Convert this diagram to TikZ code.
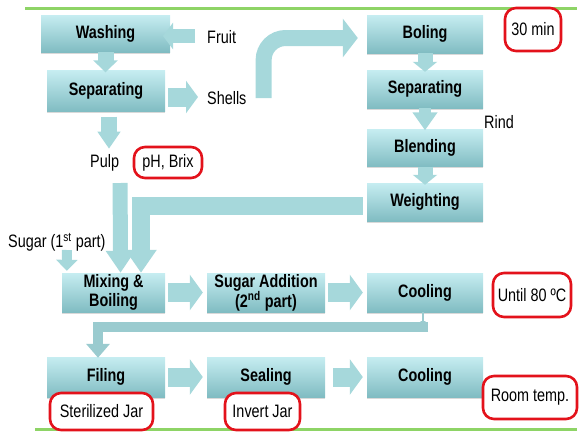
\documentclass[tikz,border=0pt]{standalone}
\usepackage{fontspec}
\setmainfont[FakeStretch=0.8]{Liberation Sans}
\usetikzlibrary{arrows.meta,shadows,calc}
\definecolor{boxtop}{HTML}{C6EDF1}
\definecolor{boxbot}{HTML}{80BCC2}
\definecolor{arr}{HTML}{A6D8DB}
\definecolor{arrdark}{HTML}{9ACBCF}
\definecolor{redline}{HTML}{E3121B}
\definecolor{greenline}{HTML}{8ED466}
\begin{document}
\begin{tikzpicture}[x=1pt,y=-1pt,
 box/.style={rectangle, inner sep=0pt, top color=boxtop, bottom color=boxbot, draw=none,
   font=\bfseries\fontsize{18}{19}\selectfont, align=center,
   drop shadow={shadow xshift=0pt, shadow yshift=-1.5pt, opacity=0.3}},
 note/.style={rectangle, rounded corners=11pt, draw=redline, line width=2.6pt, inner sep=0pt,
   font=\fontsize{18}{19}\selectfont, fill=white},
 lbl/.style={inner sep=0pt, font=\fontsize{18}{19}\selectfont},
 fat/.style={draw=arr, line cap=butt}
]
\useasboundingbox (0,0) rectangle (580,431);
% green rules
\draw[greenline, line width=3pt] (25,8) -- (577,8);
\draw[greenline, line width=3pt] (35,429) -- (577,429);

% process boxes
\node[box, minimum width=129pt, minimum height=37pt] (wash) at (105.5,33.5) {Washing};
\node[box, minimum width=118pt, minimum height=41pt] (sep1) at (106,91) {Separating};
\node[box, minimum width=116pt, minimum height=38pt] (boil) at (425,34) {Boling};
\node[box, minimum width=116pt, minimum height=38pt] (sep2) at (425,89) {Separating};
\node[box, minimum width=116pt, minimum height=37pt] (blend) at (425,148) {Blending};
\node[box, minimum width=116pt, minimum height=38pt] (weigh) at (425,202) {Weighting};
\node[box, minimum width=103pt, minimum height=39pt] (mix) at (113.5,292.5) {Mixing \&\\Boiling};
\node[box, minimum width=118pt, minimum height=39pt] (sugar) at (266,292.5) {Sugar Addition\\(2\textsuperscript{nd} part)};
\node[box, minimum width=116pt, minimum height=39pt] (cool1) at (425,292.5) {Cooling};
\node[box, minimum width=118pt, minimum height=40pt] (fil) at (106,377) {Filing};
\node[box, minimum width=118pt, minimum height=40pt] (seal) at (266,377) {Sealing};
\node[box, minimum width=116pt, minimum height=40pt] (cool2) at (425,377) {Cooling};

% plain labels
\node[lbl, anchor=west] (fruit) at (207,37) {Fruit};
\node[lbl, anchor=west] (shells) at (207,98) {Shells};
\node[lbl, anchor=west] (pulp) at (90,163) {Pulp};
\node[lbl, anchor=west] (rind) at (484,122) {Rind};
\node[lbl, anchor=west] (sugar1) at (8,242) {Sugar (1\textsuperscript{st} part)};

% red notes
\node[note, minimum width=68pt, minimum height=31pt] (phbrix) at (168,162.5) {pH, Brix};
\node[note, minimum width=56pt, minimum height=43pt] (min30) at (533,29.5) {30 min};
\node[note, minimum width=78pt, minimum height=44pt] (until) at (532,295) {Until 80 ºC};
\node[note, minimum width=103pt, minimum height=37pt] (steril) at (101.5,411.5) {Sterilized Jar};
\node[note, minimum width=75pt, minimum height=37pt] (invert) at (262.5,411.5) {Invert Jar};
\node[note, minimum width=94pt, minimum height=43pt] (room) at (530,397.5) {Room temp.};

% block arrows
\draw[fat, line width=14pt, -{Triangle[width=26pt,length=10pt]}]
  ($(fruit.west)+(-12,-1)$) -- ($(fruit.west)+(-44,-1)$);
\draw[fat, line width=16pt, -{Triangle[width=24pt,length=12pt]}]
  (wash.south) -- ($(wash.south |- sep1.north)+(0,2)$);
\draw[fat, line width=19pt, -{Triangle[width=32pt,length=12pt]}]
  ($(sep1.east)+(3,6)$) -- ($(shells.west)+(-9,-1)$);
\draw[fat, line width=16pt, -{Triangle[width=22pt,length=17pt]}]
  ($(sep1.south)+(3,5)$) -- ($(sep1.south)+(3,37)$);
\draw[fat, line width=16pt, rounded corners=22pt, -{Triangle[width=38pt,length=15pt]}]
  ($(shells.east)+(17,0)$) |- ($(boil.west)+(-9,4)$);
\draw[fat, line width=15pt, -{Triangle[width=24pt,length=10pt]}]
  (boil.south) -- ($(sep2.north)+(0,2)$);
\draw[fat, line width=12pt, -{Triangle[width=24pt,length=18pt]}]
  (sep2.south) -- ($(blend.north)+(0,1)$);
\draw[fat, line width=15pt, -{Triangle[width=24pt,length=10pt]}]
  (blend.south) -- ($(weigh.north)+(0,2)$);
\draw[fat, line width=18pt, -{Triangle[width=30pt,length=23pt]}]
  ($(weigh.west)+(-4,4)$) -| ($(mix.north)+(27.5,0)$);
\draw[fat, line width=15pt, -{Triangle[width=28pt,length=22pt]}]
  ($(pulp.center)+(15.5,20)$) -- ($(mix.north)+(7,0)$);
\draw[fat, line width=10pt, -{Triangle[width=21pt,length=11pt]}]
  ($(sugar1.west)+(59,8)$) -- ($(mix.north west)+(5,-2)$);
\draw[fat, line width=19pt, -{Triangle[width=35pt,length=13pt]}]
  ($(mix.east)+(3,0)$) -- ($(sugar.west)+(-4,0)$);
\draw[fat, line width=19pt, -{Triangle[width=35pt,length=13pt]}]
  ($(sugar.east)+(3,0)$) -- ($(cool1.west)+(-4,0)$);
\draw[arrdark, line width=1.5pt, -{Triangle[width=5pt,length=4pt]}]
  ($(cool1.south)+(-2,0)$) -- ($(cool1.south)+(-2,13)$);
\draw[fat, draw=arrdark, line width=10pt, -{Triangle[width=23pt,length=14pt]}]
  ($(cool1.south)+(3,15)$) -| ($(fil.north)+(-8,1)$);
\draw[fat, line width=19pt, -{Triangle[width=35pt,length=13pt]}]
  ($(fil.east)+(3,0)$) -- ($(seal.west)+(-4,0)$);
\draw[fat, line width=19pt, -{Triangle[width=35pt,length=13pt]}]
  ($(seal.east)+(8,0)$) -- ($(cool2.west)+(-4,0)$);
\end{tikzpicture}
\end{document}
